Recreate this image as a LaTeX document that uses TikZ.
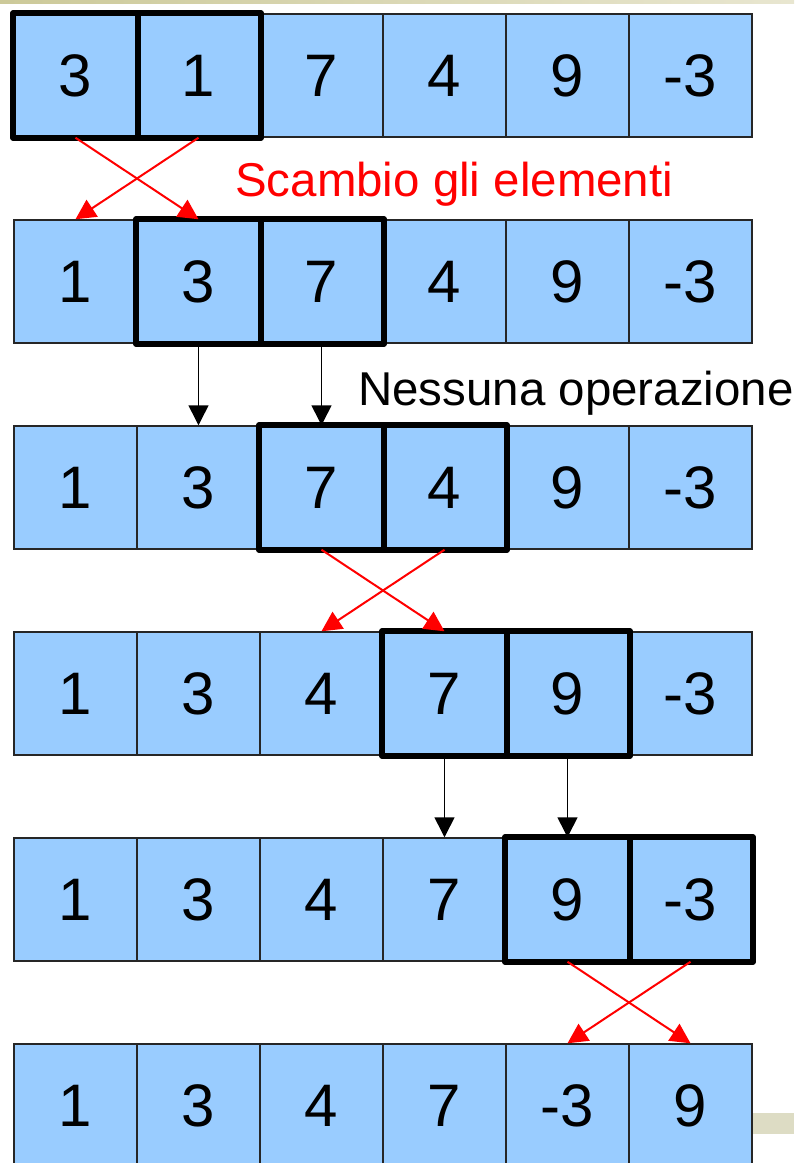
\documentclass[tikz,border=0pt]{standalone}
\usepackage{fontspec}
\setmainfont{Liberation Sans}
\usetikzlibrary{arrows.meta}

\definecolor{celeste}{RGB}{153,204,255}
\definecolor{oliva}{RGB}{204,201,153}
\definecolor{olivachiaro}{RGB}{232,230,208}
\definecolor{sabbia}{RGB}{221,220,196}

\tikzset{
  cella/.style={draw=black!85, line width=1.1pt, fill=celeste,
    minimum width=92.25pt, minimum height=92.25pt, inner sep=0pt,
    font=\fontsize{45}{45}\selectfont},
  coppia/.style={draw=black, line width=4.6pt, line join=round},
  scambio/.style={draw=red, line width=1.5pt, -{Triangle[length=15pt,width=15pt]}},
  avanti/.style={draw=black, line width=1.1pt, -{Triangle[length=15pt,width=15pt]}},
  nota/.style={anchor=base west, inner sep=0pt, font=\fontsize{35.6}{36}\selectfont}
}

\begin{document}
\begin{tikzpicture}[x=0.75pt,y=0.75pt,yscale=-1]
\useasboundingbox (0,0) rectangle (794,1163);

% bands behind the rows
\shade[left color=oliva, right color=olivachiaro] (0,0) rectangle (794,4);
\fill[sabbia] (740,1113) rectangle (794,1134);

% the array after each step
\foreach \r/\vals in {1/{3,1,7,4,9,-3}, 2/{1,3,7,4,9,-3}, 3/{1,3,7,4,9,-3},
                      4/{1,3,4,7,9,-3}, 5/{1,3,4,7,9,-3}, 6/{1,3,4,7,-3,9}}
  \foreach \v [count=\c] in \vals
    \node[cella] (n\r-\c) at ({75.5+123*(\c-1)},{75.5+206*(\r-1)}) {\v};

% pair being compared
\foreach \r/\c in {1/1,2/2,3/3,4/4,5/5} {
  \pgfmathtruncatemacro\d{\c+1}
  \draw[coppia] (n\r-\c.north west) rectangle (n\r-\d.south east);
  \draw[coppia] (n\r-\c.north east) -- (n\r-\c.south east);
}

% swaps
\foreach \r/\c in {1/1,3/3,5/5} {
  \pgfmathtruncatemacro\d{\c+1}
  \pgfmathtruncatemacro\s{\r+1}
  \draw[scambio] (n\r-\c.south) -- (n\s-\d.north);
  \draw[scambio] (n\r-\d.south) -- (n\s-\c.north);
}

% no swap
\foreach \r/\c in {2/2,4/4} {
  \pgfmathtruncatemacro\d{\c+1}
  \pgfmathtruncatemacro\s{\r+1}
  \draw[avanti] (n\r-\c.south) -- (n\s-\c.north);
  \draw[avanti] (n\r-\d.south) -- (n\s-\d.north);
}

% Text Node
\node[nota, text=red] (lblscambio) at (235,196) {Scambio gli elementi};
% Text Node
\node[nota] (lblnessuna) at (358,405) {Nessuna operazione};

\end{tikzpicture}
\end{document}
